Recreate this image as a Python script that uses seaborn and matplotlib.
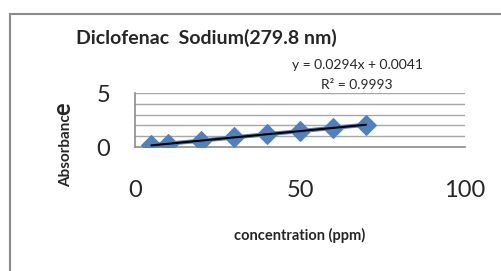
import numpy as np
import pandas as pd
import matplotlib
matplotlib.use("Agg")
import matplotlib.pyplot as plt
from matplotlib.patches import Rectangle
import seaborn as sns

# Data
concentration = [5, 10, 20, 30, 40, 50, 60, 70]
absorbance = [0.15, 0.30, 0.59, 0.89, 1.18, 1.47, 1.77, 2.06]
x_ticks = [0, 50, 100]
y_ticks = [0, 5]
equation = "y = 0.0294x + 0.0041"
r_squared = "R² = 0.9993"

df = pd.DataFrame({"conc": concentration, "abs": absorbance})

sns.set_style("white")
plt.rcParams["font.family"] = ["Lato", "DejaVu Sans"]

fig = plt.figure(figsize=(5.02, 2.71), dpi=100)
ax = fig.add_axes([135 / 502, 1 - 147 / 271, 330 / 502, 54 / 271])

# outer chart border
fig.patches.append(Rectangle((10.5 / 502, -0.1), 1.2, 1 - 13.5 / 271 + 0.1,
                             transform=fig.transFigure, fill=False,
                             edgecolor="#8c8c8c", linewidth=1.5))

sns.lineplot(data=df, x="conc", y="abs", ax=ax, color="#4F81BD",
             marker="D", markersize=10, markeredgecolor="#4F81BD",
             linewidth=3, zorder=3)
sns.regplot(data=df, x="conc", y="abs", ax=ax, scatter=False, ci=None,
            truncate=True, color="black", line_kws={"linewidth": 1.5, "zorder": 4})

ax.set_xlim(0, 100)
ax.set_ylim(0, 5)
ax.set_xticks(x_ticks)
ax.set_yticks(y_ticks)
ax.set_yticks([1, 2, 3, 4], minor=True)
ax.grid(True, which="both", axis="y", color="#a6a6a6", linewidth=1)
ax.set_axisbelow(True)
ax.tick_params(axis="both", which="major", direction="out", length=6,
               color="#8c8c8c", labelsize=17, width=1.2)
ax.tick_params(axis="x", pad=18)
ax.tick_params(axis="y", pad=12)
ax.tick_params(axis="y", which="minor", length=0)
for s in ["top", "right"]:
    ax.spines[s].set_visible(False)
for s in ["left", "bottom"]:
    ax.spines[s].set_color("#8c8c8c")
    ax.spines[s].set_linewidth(1.2)
ax.set_xlabel("")
ax.set_ylabel("")

fig.text(76 / 502, 1 - 38 / 271, "Diclofenac  Sodium(279.8 nm)", fontsize=14,
         fontweight="bold", va="center", ha="left")
fig.text(357 / 502, 1 - 65 / 271, equation, fontsize=10, ha="center", va="center")
fig.text(357 / 502, 1 - 85 / 271, r_squared, fontsize=10, ha="center", va="center")
fig.text(300 / 502, 1 - 235 / 271, "concentration (ppm)", fontsize=10.5,
         fontweight="bold", ha="center", va="center")
fig.text(70.5 / 502, 1 - 150.5 / 271, "Absorbanc", fontsize=11, fontweight="bold",
         rotation=90, rotation_mode="anchor", ha="center", va="baseline")
fig.text(70.5 / 502, 1 - 109 / 271, "e", fontsize=17, fontweight="bold",
         rotation=90, rotation_mode="anchor", ha="center", va="baseline")

fig.savefig("out.png", dpi=100)
